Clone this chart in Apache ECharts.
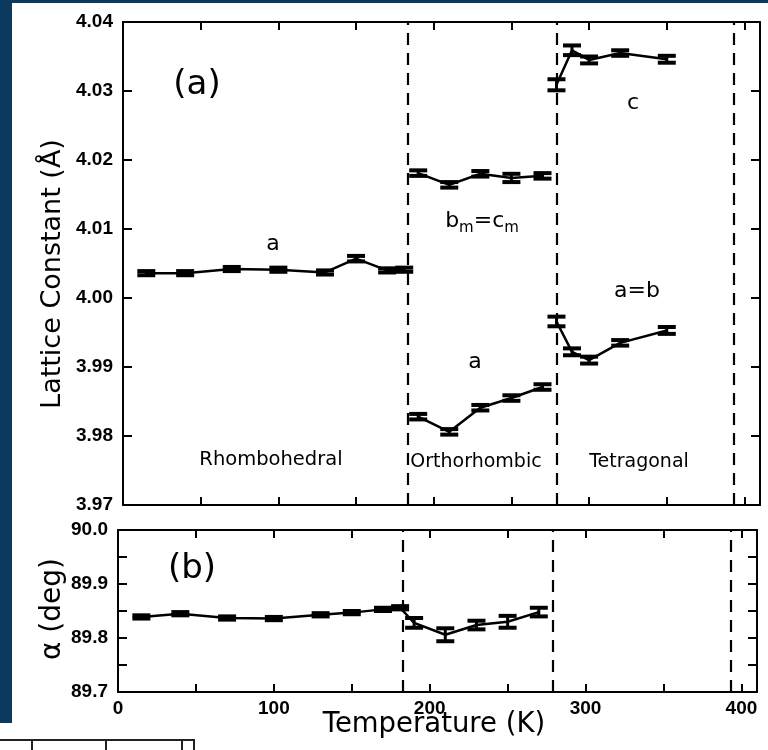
<!DOCTYPE html>
<html>
<head>
<meta charset="utf-8">
<script src="https://cdn.jsdelivr.net/npm/echarts@6/dist/echarts.min.js"></script>
<style>
  html, body { margin: 0; padding: 0; background: #fff; }
  #chart { width: 768px; height: 750px; }
</style>
</head>
<body>
<div id="chart"></div>
<script>
// temperatures (K) for each phase
const tRhombo = [15, 40, 70, 100, 130, 150, 170, 181];
const tOrtho = [190, 210, 230, 250, 270];
const tTetra = [279, 289, 300, 320, 350];

// lattice constants (A) and their error bars
const aRhombo = [4.0036, 4.0036, 4.0042, 4.0041, 4.0037, 4.0057, 4.0040, 4.0041];
const errRhombo = [0.0003, 0.0003, 0.0003, 0.0003, 0.0003, 0.0004, 0.0003, 0.0003];
const bcOrtho = [4.0181, 4.0164, 4.0180, 4.0174, 4.0177];
const errBcOrtho = [0.0004, 0.0004, 0.0004, 0.0006, 0.0004];
const aOrtho = [3.9828, 3.9806, 3.9841, 3.9855, 3.9871];
const errAOrtho = [0.0004, 0.0004, 0.0004, 0.0004, 0.0004];
const cTetra = [4.0309, 4.0359, 4.0345, 4.0355, 4.0346];
const errCTetra = [0.0008, 0.0007, 0.0005, 0.0004, 0.0005];
const abTetra = [3.9966, 3.9922, 3.9910, 3.9935, 3.9953];
const errAbTetra = [0.0007, 0.0005, 0.0005, 0.0004, 0.0005];

// rhombohedral angle (deg), rhombohedral + orthorhombic range
const tAlpha = tRhombo.concat(tOrtho);
const alpha = [89.839, 89.845, 89.837, 89.836, 89.843, 89.847, 89.853, 89.856,
               89.828, 89.806, 89.824, 89.830, 89.848];
const errAlpha = [0.003, 0.003, 0.003, 0.003, 0.003, 0.003, 0.003, 0.003,
                  0.009, 0.012, 0.008, 0.011, 0.008];

// phase transition temperatures (dashed lines)
const transitions = [183, 279, 393];

const navy = '#0b3a5e';
const font = 'DejaVu Sans';
const tickFont = 'Liberation Sans';

const chart = echarts.init(document.getElementById('chart'));

function xAxisFor(grid, position, labels) {
  return {
    type: 'value', gridIndex: grid, position: position, min: 0, max: 410, interval: 50,
    axisLine: { show: true, onZero: false, lineStyle: { color: '#000', width: 2 } },
    axisTick: { show: true, inside: true, length: 8, lineStyle: { color: '#000', width: 2 } },
    splitLine: { show: false },
    axisLabel: {
      show: labels, margin: 7, color: '#000', fontFamily: tickFont, fontWeight: 'bold', fontSize: 19,
      formatter: v => (v % 100 === 0 ? String(v) : '')
    }
  };
}

function yAxisFor(grid, position, labels, min, max, interval, digits, minor) {
  return {
    type: 'value', gridIndex: grid, position: position, min: min, max: max, interval: interval,
    axisLine: { show: true, onZero: false, lineStyle: { color: '#000', width: 2 } },
    axisTick: { show: true, inside: true, length: 9, lineStyle: { color: '#000', width: 2 } },
    minorTick: { show: minor, splitNumber: 2, length: 9, lineStyle: { color: '#000', width: 2 } },
    splitLine: { show: false },
    axisLabel: {
      show: labels, margin: 10, color: '#000', fontFamily: tickFont, fontWeight: 'bold', fontSize: 19,
      formatter: v => v.toFixed(digits)
    }
  };
}

function lineSeries(xs, ys, grid, withDashes) {
  const s = {
    type: 'line', xAxisIndex: grid * 2, yAxisIndex: grid * 2,
    data: xs.map((x, i) => [x, ys[i]]),
    symbol: 'none', lineStyle: { color: '#000', width: 2.5 }, z: 3
  };
  if (withDashes) {
    s.markLine = {
      silent: true, symbol: 'none', label: { show: false },
      lineStyle: { color: '#000', width: 2.2, type: [12, 8] },
      data: transitions.map(t => ({ xAxis: t }))
    };
  }
  return s;
}

function errorSeries(xs, ys, es, grid) {
  return {
    type: 'custom', xAxisIndex: grid * 2, yAxisIndex: grid * 2, z: 4,
    data: xs.map((x, i) => [x, ys[i] - es[i], ys[i] + es[i]]),
    renderItem: (params, api) => {
      const lo = api.coord([api.value(0), api.value(1)]);
      const hi = api.coord([api.value(0), api.value(2)]);
      const w = 9;
      const stem = { stroke: '#000', lineWidth: 3 };
      const cap = { stroke: '#000', lineWidth: 4 };
      return {
        type: 'group',
        children: [
          { type: 'line', shape: { x1: lo[0], y1: lo[1], x2: hi[0], y2: hi[1] }, style: stem },
          { type: 'line', shape: { x1: lo[0] - w, y1: lo[1], x2: lo[0] + w, y2: lo[1] }, style: cap },
          { type: 'line', shape: { x1: hi[0] - w, y1: hi[1], x2: hi[0] + w, y2: hi[1] }, style: cap }
        ]
      };
    }
  };
}

function label(text, x, y, size, extra) {
  return Object.assign({
    type: 'text', x: x, y: y, silent: true,
    style: { text: text, fontFamily: font, fontSize: size, fill: '#000', align: 'center', verticalAlign: 'middle' }
  }, extra || {});
}

chart.setOption({
  animation: false,
  backgroundColor: '#fff',
  grid: [
    { left: 123, top: 22, width: 637, height: 483 },
    { left: 118, top: 530, width: 639, height: 162 }
  ],
  xAxis: [
    xAxisFor(0, 'bottom', false),
    xAxisFor(0, 'top', false),
    xAxisFor(1, 'bottom', true),
    xAxisFor(1, 'top', false)
  ],
  yAxis: [
    yAxisFor(0, 'left', true, 3.97, 4.04, 0.01, 2, false),
    yAxisFor(0, 'right', false, 3.97, 4.04, 0.01, 2, false),
    yAxisFor(1, 'left', true, 89.7, 90.0, 0.1, 1, true),
    yAxisFor(1, 'right', false, 89.7, 90.0, 0.1, 1, true)
  ],
  series: [
    lineSeries(tRhombo, aRhombo, 0, true),
    lineSeries(tOrtho, bcOrtho, 0, false),
    lineSeries(tOrtho, aOrtho, 0, false),
    lineSeries(tTetra, cTetra, 0, false),
    lineSeries(tTetra, abTetra, 0, false),
    errorSeries(tRhombo, aRhombo, errRhombo, 0),
    errorSeries(tOrtho, bcOrtho, errBcOrtho, 0),
    errorSeries(tOrtho, aOrtho, errAOrtho, 0),
    errorSeries(tTetra, cTetra, errCTetra, 0),
    errorSeries(tTetra, abTetra, errAbTetra, 0),
    lineSeries(tAlpha, alpha, 1, true),
    errorSeries(tAlpha, alpha, errAlpha, 1)
  ],
  graphic: [
    // page frame of the scanned figure
    { type: 'rect', silent: true, z: -1, shape: { x: 0, y: 0, width: 768, height: 3 }, style: { fill: navy } },
    { type: 'rect', silent: true, z: -1, shape: { x: 0, y: 0, width: 12, height: 723 }, style: { fill: navy } },
    { type: 'polyline', silent: true, shape: { points: [[0, 740], [194, 740], [194, 750]] }, style: { stroke: '#222', lineWidth: 2, fill: null } },
    { type: 'line', silent: true, shape: { x1: 32, y1: 740, x2: 32, y2: 750 }, style: { stroke: '#222', lineWidth: 2 } },
    { type: 'line', silent: true, shape: { x1: 106, y1: 740, x2: 106, y2: 750 }, style: { stroke: '#222', lineWidth: 2 } },
    { type: 'line', silent: true, shape: { x1: 182, y1: 740, x2: 182, y2: 750 }, style: { stroke: '#222', lineWidth: 2 } },
    // axis titles
    label('Lattice Constant (Å)', 53, 274, 27, { rotation: Math.PI / 2 }),
    label('α (deg)', 53, 609, 28, { rotation: Math.PI / 2 }),
    label('Temperature (K)', 434, 725, 27.5),
    // panel tags and curve labels
    label('(a)', 197, 85, 34),
    label('(b)', 192, 569, 34),
    label('a', 273, 244, 22),
    {
      type: 'text', x: 482, y: 221, silent: true,
      style: {
        text: '{t|b}{s|m}{t|=c}{s|m}', align: 'center', verticalAlign: 'middle',
        rich: {
          t: { fontFamily: font, fontSize: 22, fill: '#000' },
          s: { fontFamily: font, fontSize: 15, fill: '#000', verticalAlign: 'bottom', padding: [0, 0, -4, 0] }
        }
      }
    },
    label('c', 633, 103, 22),
    label('a=b', 637, 291, 22),
    label('a', 475, 362, 22),
    label('Rhombohedral', 271, 460, 19.5),
    label('Orthorhombic', 476, 462, 19),
    label('Tetragonal', 639, 462, 19)
  ]
});

window.addEventListener('resize', () => chart.resize());
</script>
</body>
</html>
